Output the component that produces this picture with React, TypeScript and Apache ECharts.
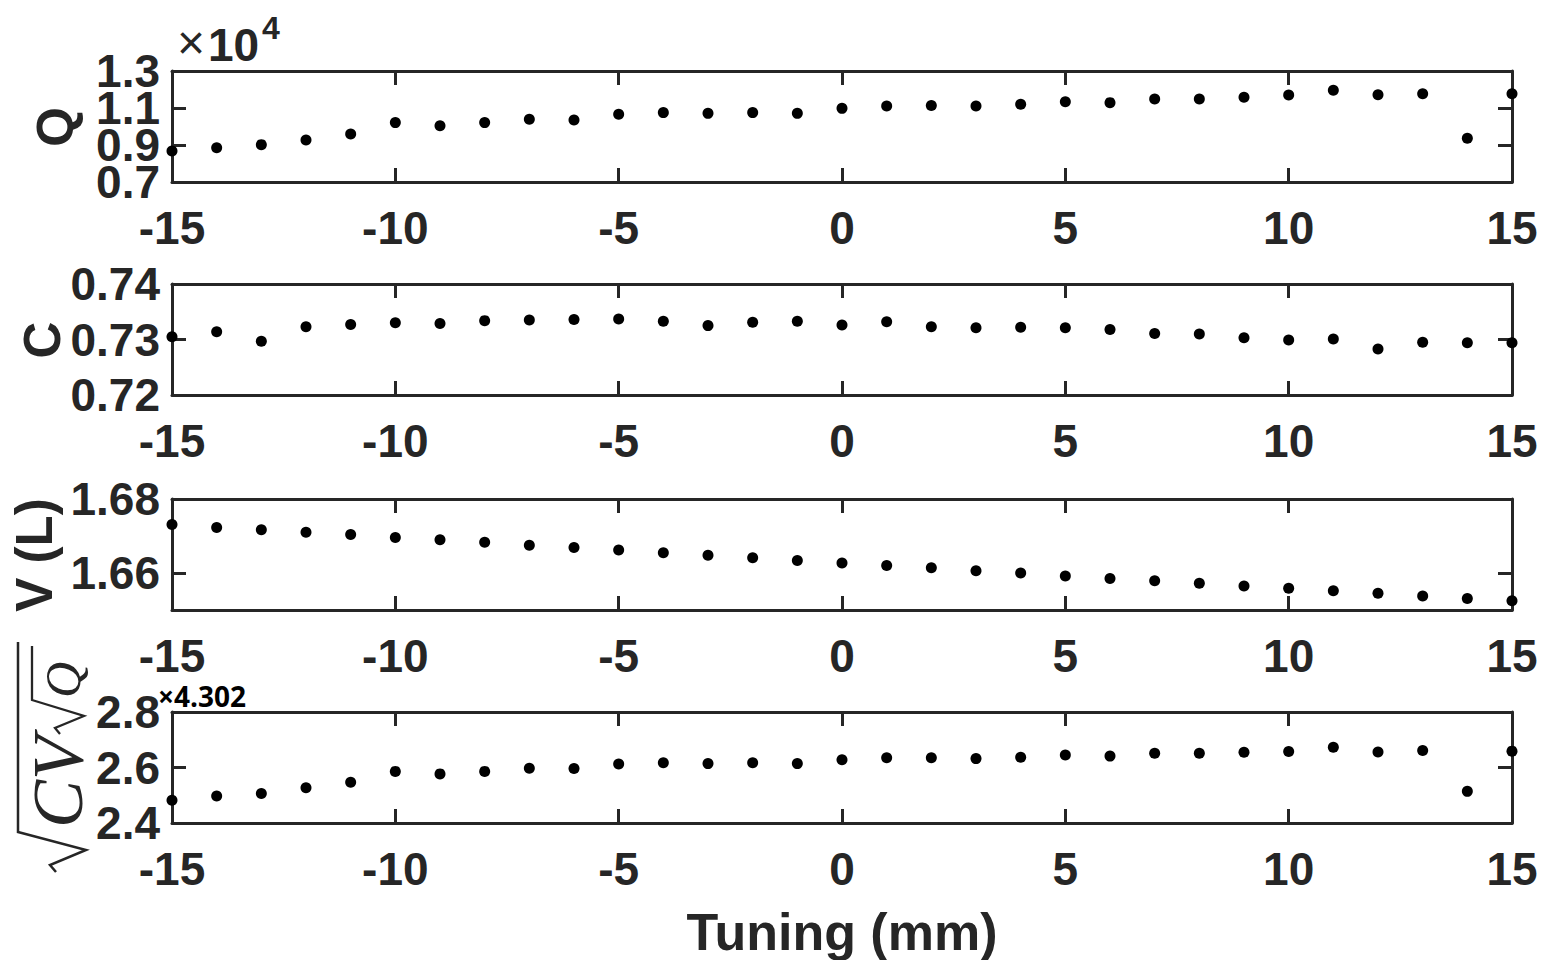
import React, { useEffect, useRef } from "react";
import * as echarts from "echarts";

const tuning = [-15, -14, -13, -12, -11, -10, -9, -8, -7, -6, -5, -4, -3, -2, -1, 0, 1, 2, 3, 4, 5, 6, 7, 8, 9, 10, 11, 12, 13, 14, 15];
const qValues = [8680, 8850, 9020, 9270, 9590, 10210, 10040, 10210, 10390, 10350, 10660, 10750, 10710, 10750, 10710, 10980, 11110, 11140, 11110, 11200, 11340, 11290, 11490, 11490, 11580, 11700, 11960, 11720, 11770, 9360, 11770];
const cValues = [0.7305, 0.7314, 0.7297, 0.7323, 0.7327, 0.733, 0.7329, 0.7334, 0.7335, 0.7336, 0.7337, 0.7333, 0.7325, 0.7331, 0.7333, 0.7326, 0.7332, 0.7323, 0.7321, 0.7322, 0.7321, 0.7318, 0.7311, 0.731, 0.7303, 0.7299, 0.7301, 0.7283, 0.7295, 0.7294, 0.7294];
const vValues = [1.6731, 1.6723, 1.6717, 1.671, 1.6704, 1.6696, 1.669, 1.6683, 1.6675, 1.6669, 1.6662, 1.6655, 1.6648, 1.6641, 1.6634, 1.6627, 1.662, 1.6614, 1.6606, 1.66, 1.6592, 1.6585, 1.6579, 1.6572, 1.6565, 1.6559, 1.6552, 1.6545, 1.6538, 1.6531, 1.6525];
const sValues = [2.482, 2.497, 2.506, 2.527, 2.547, 2.586, 2.577, 2.586, 2.597, 2.596, 2.613, 2.617, 2.614, 2.617, 2.614, 2.628, 2.635, 2.635, 2.632, 2.637, 2.645, 2.641, 2.651, 2.651, 2.655, 2.658, 2.673, 2.656, 2.661, 2.514, 2.659];

const xTickValues = [-15, -10, -5, 0, 5, 10, 15];
const yTickValues = [
  [7000, 9000, 11000, 13000],
  [0.72, 0.73, 0.74],
  [1.66, 1.68],
  [2.4, 2.6, 2.8],
];
// labels are split over two left axes so that tightly packed labels are all kept
const yLabelSetsA = [[7000, 11000], [0.72, 0.73, 0.74], [1.66, 1.68], [2.4, 2.6, 2.8]];
const yLabelSetsB = [[9000, 13000], [], [], []];
const panelYAxes = [
  { min: 7000, max: 13000, digits: 1, scale: 1e4 },
  { min: 0.72, max: 0.74, digits: 2, scale: 1 },
  { min: 1.65, max: 1.68, digits: 2, scale: 1 },
  { min: 2.4, max: 2.8, digits: 1, scale: 1 },
];
const panelData = [qValues, cValues, vValues, sValues];
const yNames = ["Q", "C", "V (L)"];
const xTitle = "Tuning (mm)";

const INK = "#262626";
const FONT = '"Liberation Sans", Arial, sans-serif';

export default function App() {
  const ref = useRef<HTMLDivElement>(null);
  useEffect(() => {
    if (!ref.current) return;
    const chart = echarts.init(ref.current, null, { renderer: "svg" });
    const tops = [71, 284, 499, 712];
    const grids = tops.map((t) => ({ left: 172, top: t, width: 1340, height: 111, show: false }));
    const xAxes: any[] = [];
    const yAxes: any[] = [];
    const series: any[] = [];
    tops.forEach((_, i) => {
      const common = {
        type: "value",
        gridIndex: i,
        min: -15,
        max: 15,
        interval: 5,
        splitLine: { show: false },
        axisLine: { show: true, onZero: false, lineStyle: { color: INK, width: 3 } },
        axisTick: { show: true, inside: true, length: 14, customValues: xTickValues, lineStyle: { color: INK, width: 3 } },
      };
      xAxes.push({
        ...common,
        position: "bottom",
        axisLabel: {
          show: true, color: INK, fontFamily: FONT, fontWeight: "bold", fontSize: 46, margin: 23,
          customValues: xTickValues, showMinLabel: true, showMaxLabel: true,
        },
      });
      xAxes.push({ ...common, position: "top", axisLabel: { show: false } });
      const ya = panelYAxes[i];
      const ycommon: any = {
        type: "value",
        gridIndex: i,
        min: ya.min,
        max: ya.max,
        splitLine: { show: false },
        axisLine: { show: true, onZero: false, lineStyle: { color: INK, width: 3 } },
        axisTick: { show: true, inside: true, length: 14, customValues: yTickValues[i], lineStyle: { color: INK, width: 3 } },
      };
      const mkLab = (vals: number[]) => ({
        show: vals.length > 0,
        color: INK,
        fontFamily: FONT,
        fontWeight: "bold",
        fontSize: 46,
        lineHeight: 34,
        margin: 12,
        customValues: vals,
        showMinLabel: true,
        showMaxLabel: true,
        hideOverlap: false,
        formatter: (v: number) => (v / ya.scale).toFixed(ya.digits),
      });
      const mainIdx = yAxes.length;
      yAxes.push({ ...ycommon, position: "left", axisLabel: mkLab(yLabelSetsA[i]) });
      yAxes.push({ ...ycommon, position: "right", axisLabel: { show: false } });
      if (yLabelSetsB[i].length) {
        yAxes.push({
          ...ycommon,
          position: "left",
          offset: 0,
          axisLine: { show: false },
          axisTick: { show: false },
          axisLabel: mkLab(yLabelSetsB[i]),
        });
      }
      series.push({
        type: "scatter",
        xAxisIndex: 2 * i,
        yAxisIndex: mainIdx,
        symbol: "circle",
        symbolSize: 11,
        clip: false,
        itemStyle: { color: "#000", opacity: 1 },
        data: tuning.map((x, k) => [x, panelData[i][k]]),
      });
    });

    const yLabelPos = [
      [55, 127],
      [42, 340],
      [34, 555],
    ];
    const graphic: any[] = yNames.map((n, i) => ({
      type: "text",
      x: yLabelPos[i][0],
      y: yLabelPos[i][1],
      rotation: Math.PI / 2,
      style: { text: n, fill: INK, font: `bold 51px ${FONT}`, align: "center", verticalAlign: "middle" },
    }));
    graphic.push({
      type: "text",
      x: 842,
      y: 932,
      style: { text: xTitle, fill: INK, font: `bold 52px ${FONT}`, align: "center", verticalAlign: "middle" },
    });
    // exponent ×10^4
    graphic.push({ type: "text", x: 177, y: 66, style: { text: "×", fill: INK, font: `48px ${FONT}`, align: "left", verticalAlign: "bottom" } });
    graphic.push({ type: "text", x: 208, y: 68, style: { text: "10", fill: INK, font: `bold 46px ${FONT}`, align: "left", verticalAlign: "bottom" } });
    graphic.push({ type: "text", x: 262, y: 44, style: { text: "4", fill: INK, font: `bold 32px ${FONT}`, align: "left", verticalAlign: "bottom" } });
    // ×4.302 scale factor
    graphic.push({ type: "text", x: 158, y: 696, style: { text: "×4.302", fill: "#000", font: `bold 28px "Open Sans", sans-serif`, align: "left", verticalAlign: "middle" } });
    // sqrt(CV sqrt(Q)) label
    const serif = '"Liberation Serif", "DejaVu Serif", serif';
    graphic.push({
      type: "group",
      x: 80,
      y: 872,
      rotation: Math.PI / 2,
      children: [
        { type: "polyline", shape: { points: [[0, -24], [7, -30], [22, 6], [40, -62], [230, -62]] }, style: { stroke: INK, lineWidth: 2.5, fill: null } },
        { type: "text", x: 44, y: -22, style: { text: "CV", fill: INK, font: `italic 72px ${serif}`, align: "left", verticalAlign: "middle" } },
        { type: "polyline", shape: { points: [[138, -20], [144, -25], [156, 4], [172, -48], [226, -48]] }, style: { stroke: INK, lineWidth: 2.3, fill: null } },
        { type: "text", x: 174, y: -17, style: { text: "Q", fill: INK, font: `italic 50px ${serif}`, align: "left", verticalAlign: "middle" } },
      ],
    });

    chart.setOption({
      animation: false,
      backgroundColor: "#fff",
      grid: grids,
      xAxis: xAxes,
      yAxis: yAxes,
      series,
      graphic,
    });
    return () => chart.dispose();
  }, []);
  return <div ref={ref} style={{ position: "absolute", left: 0, top: 0, width: 1543, height: 960 }} />;
}
